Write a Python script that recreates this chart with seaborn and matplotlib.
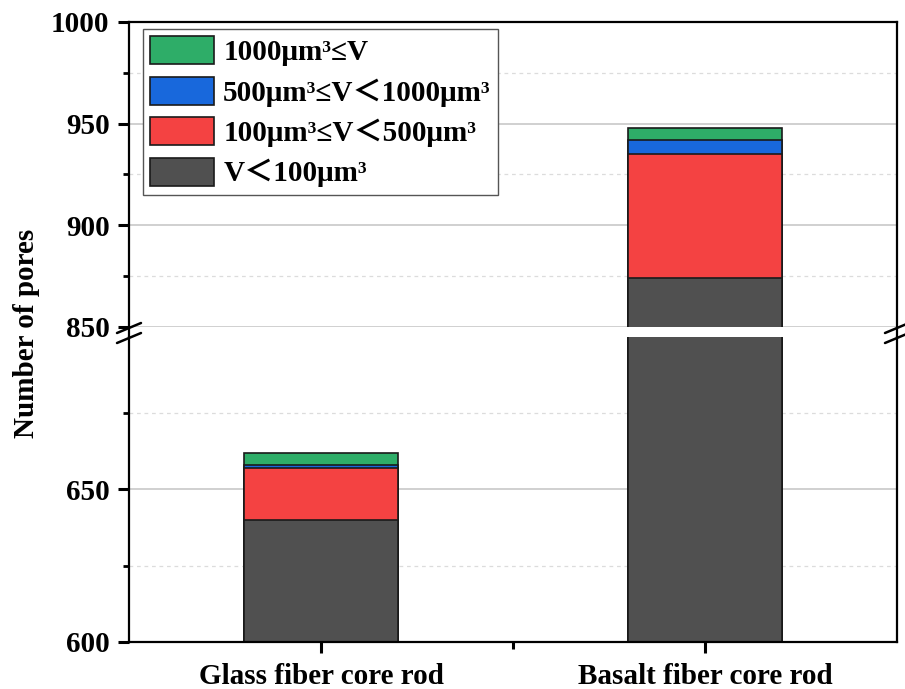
import matplotlib.pyplot as plt
import matplotlib.patches as mpatches
from matplotlib.lines import Line2D
from matplotlib.ticker import MultipleLocator, FixedLocator
import pandas as pd
import seaborn as sns

# --- data ---
categories = ["Glass fiber core rod", "Basalt fiber core rod"]
v_lt_100 = [640, 874]
v_100_500 = [17, 61]
v_500_1000 = [1, 7]
v_ge_1000 = [4, 6]

labels = ["V＜100μm³", "100μm³≤V＜500μm³", "500μm³≤V＜1000μm³", "1000μm³≤V"]
colors = ["#505050", "#F44242", "#1868DC", "#2EAD68"]

sns.set_style("white")
plt.rcParams['font.family'] = ['Liberation Serif', 'Noto Sans CJK SC']
plt.rcParams['font.weight'] = 'bold'
plt.rcParams['axes.linewidth'] = 1.6
for k in ('text.color', 'axes.labelcolor', 'xtick.color', 'ytick.color'):
    plt.rcParams[k] = 'black'

df = pd.DataFrame({"rod": categories})
parts = [v_lt_100, v_100_500, v_500_1000, v_ge_1000]
running = [0, 0]
cum_cols = []
for i, p in enumerate(parts):
    running = [a + b for a, b in zip(running, p)]
    df[f"cum{i}"] = running
    cum_cols.append(f"cum{i}")

fig = plt.figure(figsize=(9.05, 6.89), dpi=100)
L, R = 129 / 905, 897 / 905
ax_top = fig.add_axes([L, 1 - 327 / 689, R - L, (327 - 22) / 689])
ax_bot = fig.add_axes([L, 1 - 642 / 689, R - L, (642 - 337) / 689])

for ax in (ax_top, ax_bot):
    # overlay cumulative bars, tallest first -> stacked look
    for col, color in reversed(list(zip(cum_cols, colors))):
        sns.barplot(data=df, x="rod", y=col, color=color, saturation=1,
                    width=0.4, edgecolor="#1a1a1a", linewidth=1.2, ax=ax)
    ax.set_xlabel("")
    ax.set_ylabel("")
    ax.set_xlim(-0.5, 1.5)
    ax.set_axisbelow(True)
    ax.yaxis.grid(True, which='major', color='#c4c4c4', lw=1.1)
    ax.yaxis.grid(True, which='minor', color='#dcdcdc', lw=0.9, ls=(0, (3, 3)))
    ax.tick_params(axis='y', which='major', direction='out', length=8, width=2.2,
                   labelsize=21, pad=6, left=True)
    ax.tick_params(axis='y', which='minor', direction='out', length=4.5, width=2, left=True)
    for s in ax.spines.values():
        s.set_color('black')

ax_top.set_ylim(850, 1000)
ax_top.yaxis.set_major_locator(MultipleLocator(50))
ax_top.yaxis.set_minor_locator(MultipleLocator(25))
ax_top.spines['bottom'].set_visible(False)
ax_top.tick_params(axis='x', which='both', bottom=False, labelbottom=False)

ax_bot.set_ylim(600, 700)
ax_bot.yaxis.set_major_locator(FixedLocator([600, 650]))
ax_bot.yaxis.set_minor_locator(FixedLocator([625, 675]))
ax_bot.spines['top'].set_visible(False)
ax_bot.xaxis.set_minor_locator(FixedLocator([0.5]))
ax_bot.tick_params(axis='x', which='major', direction='out', length=8, width=2.2,
                   labelsize=21, pad=7, bottom=True)
ax_bot.tick_params(axis='x', which='minor', direction='out', length=5, width=2.2, bottom=True)

# spines across the gap + break marks
to_px = lambda x, y: (x / 905, 1 - y / 689)
for xs in (129, 897):
    fig.add_artist(Line2D(*zip(to_px(xs, 327), to_px(xs, 337)), color='black', lw=1.6))
    for yb in (328, 338):
        fig.add_artist(Line2D(*zip(to_px(xs - 12, yb + 5), to_px(xs + 12, yb - 5)),
                              color='black', lw=1.8))

handles = [mpatches.Patch(facecolor=c, edgecolor='#1a1a1a', lw=1.2, label=l)
           for c, l in zip(colors, labels)]
leg = ax_top.legend(handles=handles[::-1], loc='upper left',
                    bbox_to_anchor=to_px(143, 29), bbox_transform=fig.transFigure,
                    fontsize=21, handlelength=2.2, handleheight=1.1, handletextpad=0.3,
                    labelspacing=0.36, borderpad=0.25, borderaxespad=0,
                    fancybox=False, framealpha=1, edgecolor='#555555')
leg.get_frame().set_linewidth(1.0)

fig.text(27 / 905, 1 - 333 / 689, "Number of pores", rotation=90, va='center',
         ha='center', fontsize=21, fontweight='bold')

fig.savefig("out.png", dpi=100)
